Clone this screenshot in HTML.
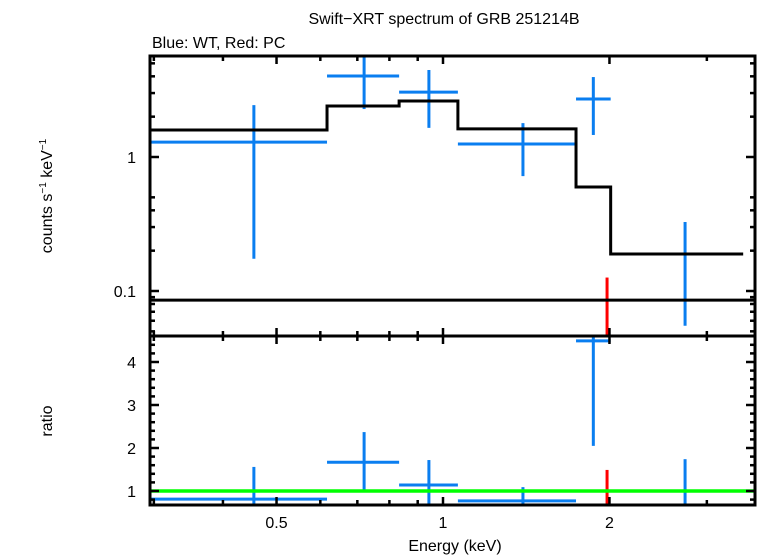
<!DOCTYPE html>
<html><head><meta charset="utf-8"><style>
html,body{margin:0;padding:0;background:#fff;}
svg{display:block;font-family:"Liberation Sans",sans-serif;}
</style></head><body>
<svg id="chart" width="758" height="556" viewBox="0 0 758 556" xmlns="http://www.w3.org/2000/svg">
<text x="444" y="24" font-size="16" text-anchor="middle">Swift−XRT spectrum of GRB 251214B</text>
<text x="152" y="48" font-size="16">Blue: WT, Red: PC</text>
<text transform="translate(52,196) rotate(-90)" font-size="16" text-anchor="middle">counts s<tspan font-size="10" dy="-6">−1</tspan><tspan dy="6"> keV</tspan><tspan font-size="10" dy="-6">−1</tspan></text>
<text transform="translate(52,421) rotate(-90)" font-size="16" text-anchor="middle">ratio</text>
<text x="455" y="551" font-size="16" text-anchor="middle">Energy (keV)</text>
<g id="g"></g>
</svg>
<script>
const binLo=[0.295,0.617,0.833,1.064,1.74];
const binHi=[0.617,0.833,1.064,1.74,2.01];
const binMid=[0.455,0.72,0.943,1.395,1.87];
const wtRate=[1.29,4.02,3.05,1.25,2.71];
const wtRateHi=[2.44,6.0,4.46,1.79,3.95];
const wtRateLo=[0.174,2.28,1.65,0.72,1.46];
const wtRatio=[0.81,1.67,1.14,0.77,4.49];
const wtRatioHi=[1.56,2.37,1.72,1.09,4.6];
const wtRatioLo=[0.5,0.98,0.67,0.5,2.05];
const lastE=2.74, lastRateHi=0.327, lastRateLo=0.055, lastRatioHi=1.74, lastRatioLo=0.5;
const pcE=1.98, pcRateHi=0.126, pcRatioHi=1.49;
const modelEdges=[0.295,0.617,0.833,1.064,1.74,2.01,3.49];
const modelVals=[1.59,2.40,2.62,1.62,0.597,0.189];
const pcModel=0.0855;
const xTicksMajor=[0.5,1,2];
const xTicksMinor=[0.3,0.4,0.6,0.7,0.8,0.9,3];
const topMajor=[0.1,1];
const topMinor=[0.05,0.06,0.07,0.08,0.09,0.2,0.3,0.4,0.5,2,3,4,5];
const ratioMajor=[1,2,3,4];

const L=150,R=755,T=56,M=336,B=505;
const X=e=>443+553*Math.log10(e);
const YT=v=>Math.max(T,Math.min(M,157-134*Math.log10(v)));
const YB=v=>Math.max(M,Math.min(B,491-43*(v-1)));
const g=document.getElementById('g');
const NS='http://www.w3.org/2000/svg';
function ln(x1,y1,x2,y2,c,w,name){const l=document.createElementNS(NS,'line');
l.setAttribute('x1',x1);l.setAttribute('y1',y1);l.setAttribute('x2',x2);l.setAttribute('y2',y2);
l.setAttribute('stroke',c);l.setAttribute('stroke-width',w);


g.appendChild(l);}
function tx(x,y,s,anchor,name){const t=document.createElementNS(NS,'text');
t.setAttribute('x',x);t.setAttribute('y',y);t.setAttribute('font-size','16');t.setAttribute('text-anchor',anchor);t.textContent=s;


g.appendChild(t);}
const blue='#0a7ef0';
for(let i=0;i<binMid.length;i++){
 ln(X(binLo[i]),YT(wtRate[i]),X(binHi[i]),YT(wtRate[i]),blue,3,'wt-rate-xerr');
 ln(X(binMid[i]),YT(wtRateHi[i]),X(binMid[i]),YT(wtRateLo[i]),blue,3,'wt-rate-yerr');
 ln(X(binLo[i]),YB(wtRatio[i]),X(binHi[i]),YB(wtRatio[i]),blue,3,'wt-ratio-xerr');
 ln(X(binMid[i]),YB(wtRatioHi[i]),X(binMid[i]),YB(wtRatioLo[i]),blue,3,'wt-ratio-yerr');
}
ln(X(lastE),YT(lastRateHi),X(lastE),YT(lastRateLo),blue,3,'wt-rate-last');
ln(X(lastE),YB(lastRatioHi),X(lastE),YB(lastRatioLo),blue,3,'wt-ratio-last');
ln(X(pcE),YT(pcRateHi),X(pcE),M,'#f00',3,'pc-rate-err');
ln(X(pcE),YB(pcRatioHi),X(pcE),B,'#f00',3,'pc-ratio-err');
let d='';
for(let i=0;i<modelVals.length;i++){
 const x1=X(modelEdges[i]),x2=X(modelEdges[i+1]),y=YT(modelVals[i]);
 d+=(i?'L':'M')+x1+','+y+'L'+x2+','+y;
}
const p=document.createElementNS(NS,'path');p.setAttribute('d',d);p.setAttribute('fill','none');p.setAttribute('stroke','#000');p.setAttribute('stroke-width','3');


g.appendChild(p);
ln(L,YT(pcModel),R,YT(pcModel),'#000',3,'pc-model');
ln(L,YB(1),R,YB(1),'#0f0',3.5,'ratio-unity-line');
const r=document.createElementNS(NS,'rect');r.setAttribute('x',L);r.setAttribute('y',T);r.setAttribute('width',R-L);r.setAttribute('height',B-T);
r.setAttribute('fill','none');r.setAttribute('stroke','#000');r.setAttribute('stroke-width','3');


g.appendChild(r);
ln(L,M,R,M,'#000',3,'panel-divider');
xTicksMajor.forEach(e=>{const x=X(e);
 [T,M].forEach(y=>ln(x,y,x,y+8,'#000',2.5,'x-tick-major'));
 [M,B].forEach(y=>ln(x,y,x,y-8,'#000',2.5,'x-tick-major'));
 tx(x,528,String(e),'middle','x-tick-label');});
xTicksMinor.forEach(e=>{const x=X(e);
 [T,M].forEach(y=>ln(x,y,x,y+5,'#000',2.5,'x-tick-minor'));
 [M,B].forEach(y=>ln(x,y,x,y-5,'#000',2.5,'x-tick-minor'));});
topMajor.forEach(v=>{const y=YT(v);ln(L,y,L+9,y,'#000',2.5,'y-tick-major');ln(R,y,R-9,y,'#000',2.5,'y-tick-major');
 tx(136,y+6,String(v),'end','y-tick-label');});
topMinor.forEach(v=>{const y=YT(v);ln(L,y,L+5,y,'#000',2.5,'y-tick-minor');ln(R,y,R-5,y,'#000',2.5,'y-tick-minor');});
for(let v=0.8;v<=4.6;v+=0.2){const y=YB(v);const maj=Math.abs(v-Math.round(v))<0.01;
 ln(L,y,L+(maj?9:5),y,'#000',2.5,'ratio-tick');ln(R,y,R-(maj?9:5),y,'#000',2.5,'ratio-tick');}
ratioMajor.forEach(v=>tx(136,YB(v)+6,String(v),'end','ratio-tick-label'));
</script>
</body></html>
